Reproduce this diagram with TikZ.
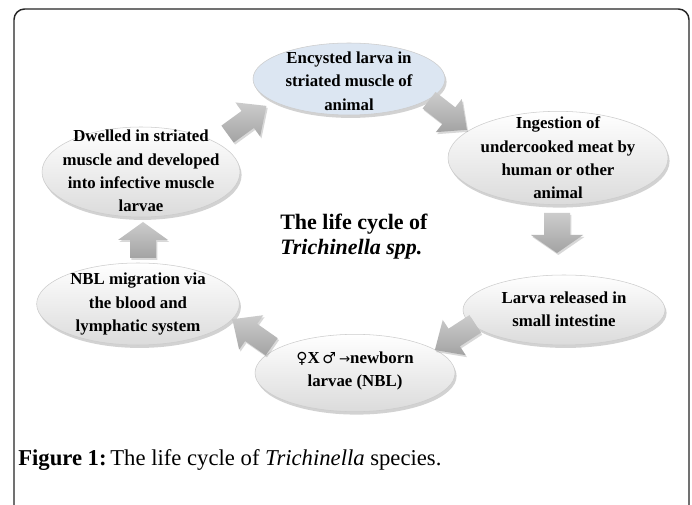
\documentclass[tikz,border=0pt]{standalone}
\usepackage{fontspec}
\setmainfont{Liberation Serif}
\newfontfamily\symfont{DejaVu Sans}
\usetikzlibrary{shapes.geometric,shadows}
\begin{document}
\begin{tikzpicture}[x=0.75pt,y=-0.75pt,
  cyc/.style={ellipse, draw=gray!40, line width=0.4pt, top color=white, bottom color=gray!28,
    drop shadow={opacity=0.35, shadow xshift=1.2pt, shadow yshift=-2.2pt, fill=gray},
    inner sep=0pt},
  cycblue/.style={ellipse, draw=gray!40, line width=0.4pt, fill={rgb,255:red,220;green,230;blue,242},
    drop shadow={opacity=0.35, shadow xshift=1.2pt, shadow yshift=-2.2pt, fill=gray},
    inner sep=0pt},
  txt/.style={align=center, inner sep=0pt, font=\fontsize{12.6}{17.5}\selectfont\bfseries},
  barr/.style={top color=gray!40, bottom color=gray!72, draw=none,
    drop shadow={opacity=0.3, shadow xshift=1pt, shadow yshift=-1.5pt, fill=gray}},
  frame/.style={line width=1.1pt, draw=black!85, rounded corners=8pt}
]
\useasboundingbox (0,0) rectangle (692,505);
\fill[white] (0,0) rectangle (692,505);
\draw[frame] (14,505) -- (14,9) -- (689,9) -- (689,505);

% ellipses
\node[cycblue, minimum width=144pt, minimum height=54pt] (e1) at (349,79) {};
\node[cyc, minimum width=165pt, minimum height=70pt] (e2) at (558,158) {};
\node[cyc, minimum width=151.5pt, minimum height=52.5pt] (e3) at (564,310) {};
\node[cyc, minimum width=150pt, minimum height=58pt] (e4) at (355,373) {};
\node[cyc, minimum width=152pt, minimum height=61.5pt] (e5) at (138,304) {};
\node[cyc, minimum width=148.5pt, minimum height=67.5pt] (e6) at (141,172) {};

\node[txt] (t1) at (349,81) {Encysted larva in\\striated muscle of\\animal};
\node[txt] (t2) at (558,158) {Ingestion of\\undercooked meat by\\human or other\\animal};
\node[txt] (t3) at (564,309) {Larva released in\\small intestine};
\node[txt] (t4) at (355,371) {{\symfont\mdseries\fontsize{11.5}{17.5}\selectfont ♀}X\,{\symfont\mdseries\fontsize{11.5}{17.5}\selectfont ♂}\,{\symfont\mdseries\fontsize{10}{17.5}\selectfont →}newborn\\larvae (NBL)};
\node[txt] (t5) at (138,304) {NBL migration via\\the blood and\\lymphatic system};
\node[txt] (t6) at (141,171) {Dwelled in striated\\muscle and developed\\into infective muscle\\larvae};

% block arrows
\path[barr, shift={(247,120)}, rotate=36] (-24,-10.5) -- (1,-10.5) -- (1,-21) -- (24,0) -- (1,21) -- (1,10.5) -- (-24,10.5) -- cycle;
\path[barr, shift={(448,115)}, rotate=-38] (-24,-10.5) -- (1,-10.5) -- (1,-21) -- (24,0) -- (1,21) -- (1,10.5) -- (-24,10.5) -- cycle;
\path[barr, shift={(557,233)}, rotate=-90] (-20,-13) -- (2,-13) -- (2,-26) -- (20,0) -- (2,26) -- (2,13) -- (-20,13) -- cycle;
\path[barr, shift={(455,337)}, rotate=213] (-24,-10.5) -- (1,-10.5) -- (1,-21) -- (24,0) -- (1,21) -- (1,10.5) -- (-24,10.5) -- cycle;
\path[barr, shift={(252,333)}, rotate=145] (-24,-10.5) -- (1,-10.5) -- (1,-21) -- (24,0) -- (1,21) -- (1,10.5) -- (-24,10.5) -- cycle;
\path[barr, shift={(143,240)}, rotate=90] (-18,-13) -- (0,-13) -- (0,-25) -- (18,0) -- (0,25) -- (0,13) -- (-18,13) -- cycle;

% title
\node[anchor=base west, inner sep=0pt, font=\fontsize{16.5}{19}\selectfont\bfseries] (title1) at (280,230) {The life cycle of};
\node[anchor=base west, inner sep=0pt, font=\fontsize{16.5}{19}\selectfont\bfseries\itshape] (title2) at (280,255) {Trichinella spp.};

% caption
\node[anchor=base west, inner sep=0pt, font=\fontsize{17}{20}\selectfont] (cap) at (18,465) {\textbf{Figure 1:}\,The life cycle of \textit{Trichinella} species.};
\end{tikzpicture}
\end{document}
